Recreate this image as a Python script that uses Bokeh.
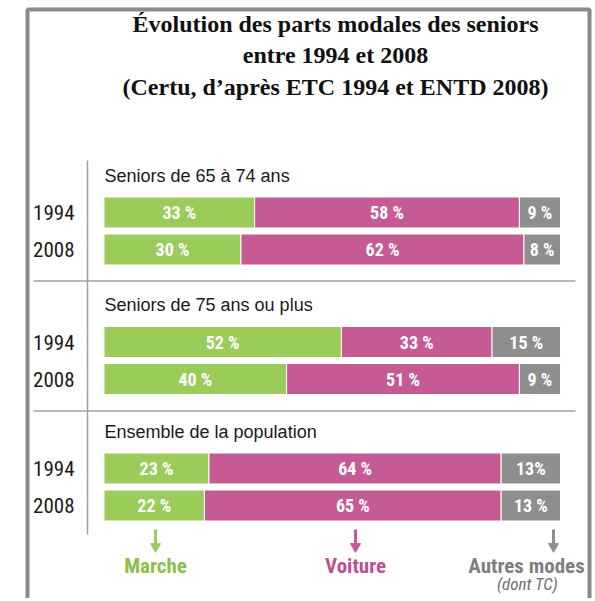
from bokeh.plotting import figure
from bokeh.models import ColumnDataSource, Range1d
from bokeh.core.properties import value
from bokeh.embed import file_html
from bokeh.resources import INLINE
import numpy as np

# ---------------- data ----------------
groups = ["Seniors de 65 à 74 ans", "Seniors de 75 ans ou plus", "Ensemble de la population"]
years = ["1994", "2008"]
marche = [33, 30, 52, 40, 23, 22]
voiture = [58, 62, 33, 51, 64, 65]
autres = [9, 8, 15, 9, 13, 13]
labels_marche = ["33 %", "30 %", "52 %", "40 %", "23 %", "22 %"]
labels_voiture = ["58 %", "62 %", "33 %", "51 %", "64 %", "65 %"]
labels_autres = ["9 %", "8 %", "15 %", "9 %", "13%", "13 %"]
legend_names = ["Marche", "Voiture", "Autres modes"]
title_lines = ["Évolution des parts modales des seniors",
               "entre 1994 et 2008",
               "(Certu, d’après ETC 1994 et ENTD 2008)"]

# ---------------- layout ----------------
W, H = 592, 598
PX0, PX100 = 103.5, 560.0          # pixel of 0 % and 100 %
SC = (PX100 - PX0) / 100.0


def px2x(px):
    return (px - PX0) / SC


GREEN = "#9BCB59"
PINK = "#C55A94"
GREY = "#8E8E8E"
NARROW = "'Liberation Sans Narrow', 'Arial Narrow', 'Roboto Condensed', sans-serif"

group_top = [212.0, 341.5, 468.0]
year_gap = 37.0
bar_h = 31.0
row_y = []
for g in group_top:
    row_y += [g, g + year_gap]

p = figure(width=W, height=H, output_backend="svg", toolbar_location=None,
           x_range=Range1d(px2x(0), px2x(W)), y_range=Range1d(H, 0),
           min_border=0)
p.axis.visible = False
p.grid.visible = False
p.outline_line_color = None
p.background_fill_color = "white"

# outer frame
p.line(x=[px2x(27), px2x(27), px2x(589), px2x(589)], y=[H + 5, 9, 9, H + 5],
       line_color="#8A8A8A", line_width=4)

# separators
for sy in [280.5, 410.5]:
    p.line(x=[px2x(33), px2x(575)], y=[sy, sy], line_color="#A0A0A0", line_width=1.5)
p.line(x=[px2x(87), px2x(87)], y=[160, 534], line_color="#A0A0A0", line_width=1.5)

# title
for i, t in enumerate(title_lines):
    p.text(x=[px2x(335)], y=[23 + i * 31.5], text=[t], text_align="center",
           text_baseline="middle", text_font=value("Liberation Serif"),
           text_font_style="bold", text_font_size="24px", text_color="#111111")

# bars
src = ColumnDataSource(dict(y=row_y, marche=marche, voiture=voiture, autres=autres))
p.hbar_stack(["marche", "voiture", "autres"], y="y", height=bar_h, source=src,
             color=[GREEN, PINK, GREY], line_color="white", line_width=1)

m = np.array(marche, float)
v = np.array(voiture, float)
a = np.array(autres, float)
lab = ColumnDataSource(dict(
    y=row_y * 3,
    x=list(m / 2) + list(m + v / 2) + list(m + v + a / 2),
    t=labels_marche + labels_voiture + labels_autres))
p.text(x="x", y="y", text="t", source=lab, text_align="center", text_baseline="middle",
       text_color="white", text_font=value(NARROW), text_font_style="bold",
       text_font_size="18px")

# year labels
p.text(x=[px2x(74)] * 6, y=row_y, text=years * 3, text_align="right",
       text_baseline="middle", text_font=value(NARROW), text_font_size="21px",
       text_color="#1A1A1A")

# group labels
p.text(x=[px2x(104)] * 3, y=[g - 37 for g in group_top], text=groups,
       text_align="left", text_baseline="middle", text_font=value("Liberation Sans"),
       text_font_size="18px", text_color="#1A1A1A")

# legend arrows and names
leg_px = [155, 355, 553]
leg_col = [GREEN, PINK, GREY]
leg_txt_col = ["#8CC04A", "#C0508E", "#808080"]
for lx, c in zip(leg_px, leg_col):
    p.segment(x0=[px2x(lx)], y0=[529], x1=[px2x(lx)], y1=[543], line_color=c, line_width=3)
    p.scatter(x=[px2x(lx)], y=[546], marker="inverted_triangle", size=10,
              fill_color=c, line_color=c)
text_px = [155, 355, 526]
for tx, t, c in zip(text_px, legend_names, leg_txt_col):
    p.text(x=[px2x(tx)], y=[565], text=[t], text_align="center", text_baseline="middle",
           text_font=value(NARROW), text_font_style="bold", text_font_size="21px",
           text_color=c)
p.text(x=[px2x(527)], y=[583], text=["(dont TC)"], text_align="center",
       text_baseline="middle", text_font=value(NARROW), text_font_style="italic",
       text_font_size="17px", text_color="#6E6E6E")

open("out.html", "w").write(file_html(p, INLINE))
